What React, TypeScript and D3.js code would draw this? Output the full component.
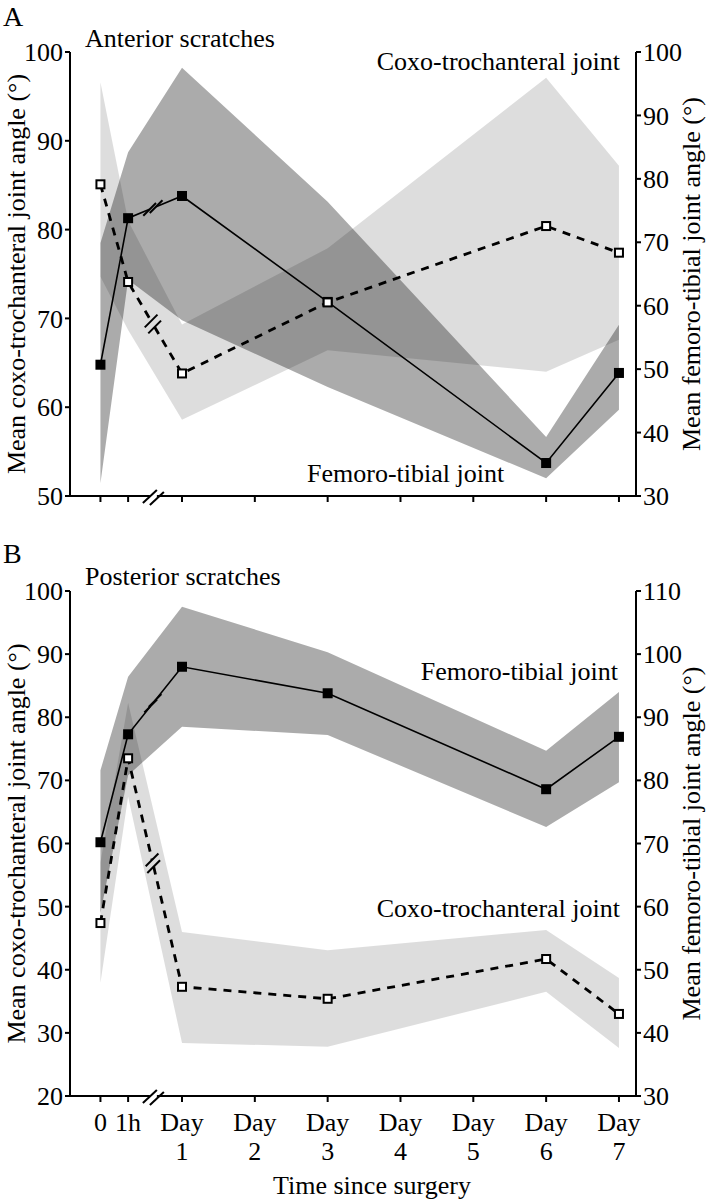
import React from 'react';
import * as d3 from 'd3';

// positions of sample times on a "day" axis (0 and 1h squeezed before the break)
const sampleTimes = [-0.12, 0.26, 1, 3, 6, 7];
const tickTimes = [-0.12, 0.26, 1, 2, 3, 4, 5, 6, 7];
const tickLine1 = ['0', '1h', 'Day', 'Day', 'Day', 'Day', 'Day', 'Day', 'Day'];
const tickLine2 = ['', '', '1', '2', '3', '4', '5', '6', '7'];
const breakTime = 0.6;
const xDomain = [-0.538, 7.234];

// Panel A – anterior scratches
const aCoxoMean = [85.1, 74.1, 63.8, 71.8, 80.4, 77.4];
const aCoxoHigh = [96.6, 81.0, 69.3, 77.9, 97.1, 87.2];
const aCoxoLow = [74.7, 68.7, 58.6, 66.4, 64.0, 67.6];
const aFemMean = [50.7, 73.8, 77.3, 60.6, 35.2, 49.4];
const aFemHigh = [69.9, 84.2, 97.5, 76.4, 39.3, 57.0];
const aFemLow = [32.0, 64.1, 57.7, 47.2, 32.8, 43.6];
const aLeftTicks = [50, 60, 70, 80, 90, 100];
const aRightTicks = [30, 40, 50, 60, 70, 80, 90, 100];

// Panel B – posterior scratches
const bCoxoMean = [47.4, 73.5, 37.3, 35.4, 41.7, 33.0];
const bCoxoHigh = [57.0, 82.3, 46.0, 43.1, 46.3, 38.7];
const bCoxoLow = [37.9, 67.4, 28.4, 27.8, 36.5, 27.6];
const bFemMean = [70.2, 87.3, 98.0, 93.8, 78.6, 86.9];
const bFemHigh = [81.6, 96.4, 107.5, 100.3, 84.7, 94.0];
const bFemLow = [59.0, 80.8, 88.5, 87.2, 72.6, 79.7];
const bLeftTicks = [20, 30, 40, 50, 60, 70, 80, 90, 100];
const bRightTicks = [30, 40, 50, 60, 70, 80, 90, 100, 110];

const FONT = '"Liberation Serif", "Times New Roman", serif';
const X0 = 70;
const X1 = 636;

type PanelCfg = {
  letter: string; letterY: number;
  title: string; titleY: number;
  top: number; bottom: number;
  leftDomain: [number, number]; rightDomain: [number, number];
  leftTicks: number[]; rightTicks: number[];
  coxoMean: number[]; coxoHigh: number[]; coxoLow: number[];
  femMean: number[]; femHigh: number[]; femLow: number[];
  coxoLabel: { x: number; y: number };
  femLabel: { x: number; y: number; anchor: string };
  showXLabels: boolean;
};

const panels: PanelCfg[] = [
  {
    letter: 'A', letterY: 26, title: 'Anterior scratches', titleY: 47,
    top: 52, bottom: 496, leftDomain: [50, 100], rightDomain: [30, 100],
    leftTicks: aLeftTicks, rightTicks: aRightTicks,
    coxoMean: aCoxoMean, coxoHigh: aCoxoHigh, coxoLow: aCoxoLow,
    femMean: aFemMean, femHigh: aFemHigh, femLow: aFemLow,
    coxoLabel: { x: 620, y: 70 }, femLabel: { x: 307, y: 482, anchor: 'start' },
    showXLabels: false,
  },
  {
    letter: 'B', letterY: 563, title: 'Posterior scratches', titleY: 585,
    top: 591, bottom: 1096, leftDomain: [20, 100], rightDomain: [30, 110],
    leftTicks: bLeftTicks, rightTicks: bRightTicks,
    coxoMean: bCoxoMean, coxoHigh: bCoxoHigh, coxoLow: bCoxoLow,
    femMean: bFemMean, femHigh: bFemHigh, femLow: bFemLow,
    coxoLabel: { x: 620, y: 917 }, femLabel: { x: 618, y: 680, anchor: 'end' },
    showXLabels: true,
  },
];

const x = d3.scaleLinear().domain(xDomain).range([X0, X1]);

function brokenLine(y: d3.ScaleLinear<number, number>, vals: number[]) {
  const pts: [number, number][] = vals.map((v, i) => [x(sampleTimes[i]), y(v)]);
  const p1 = pts[1], p2 = pts[2];
  const xb = x(breakTime);
  const t = (xb - p1[0]) / (p2[0] - p1[0]);
  const c: [number, number] = [p1[0] + t * (p2[0] - p1[0]), p1[1] + t * (p2[1] - p1[1])];
  const len = Math.hypot(p2[0] - p1[0], p2[1] - p1[1]);
  const u = [(p2[0] - p1[0]) / len, (p2[1] - p1[1]) / len];
  const g = 3.5;
  const a: [number, number] = [c[0] - g * u[0], c[1] - g * u[1]];
  const b: [number, number] = [c[0] + g * u[0], c[1] + g * u[1]];
  const line = d3.line();
  const seg1 = line([pts[0], pts[1], a]) as string;
  const seg2 = line([b, ...pts.slice(2)]) as string;
  const h = 9;
  const d = [Math.cos(-Math.PI / 4), Math.sin(-Math.PI / 4)];
  const strokes = [a, b].map((q) => [q[0] - h * d[0], q[1] - h * d[1], q[0] + h * d[0], q[1] + h * d[1]]);
  return { seg1, seg2, strokes, pts };
}

function Panel({ p }: { p: PanelCfg }) {
  const yL = d3.scaleLinear().domain(p.leftDomain).range([p.bottom, p.top]);
  const yR = d3.scaleLinear().domain(p.rightDomain).range([p.bottom, p.top]);
  const band = (y: d3.ScaleLinear<number, number>, lo: number[], hi: number[]) =>
    d3.area<number>()
      .x((t) => x(t))
      .y0((_, i) => y(lo[i]))
      .y1((_, i) => y(hi[i]))(sampleTimes) as string;

  const coxo = brokenLine(yL, p.coxoMean);
  const fem = brokenLine(yR, p.femMean);
  const xb = x(breakTime);
  const cy = (p.top + p.bottom) / 2;

  return (
    <g>
      <text x={3} y={p.letterY} fontSize={28} fontFamily={FONT}>{p.letter}</text>
      <text x={85} y={p.titleY} fontSize={26} fontFamily={FONT}>{p.title}</text>

      {/* bands */}
      <path d={band(yL, p.coxoLow, p.coxoHigh)} fill="#000" fillOpacity={0.135} />
      <path d={band(yR, p.femLow, p.femHigh)} fill="#000" fillOpacity={0.33} />

      {/* coxo dashed line */}
      <g stroke="#000" fill="none" strokeWidth={2.8}>
        <path d={coxo.seg1} strokeDasharray="8 7" />
        <path d={coxo.seg2} strokeDasharray="8 7" />
      </g>
      <g stroke="#000" strokeWidth={2}>
        {coxo.strokes.map((s, i) => <line key={i} x1={s[0]} y1={s[1]} x2={s[2]} y2={s[3]} />)}
      </g>
      {/* femoro solid line */}
      <g stroke="#000" fill="none" strokeWidth={1.6}>
        <path d={fem.seg1} />
        <path d={fem.seg2} />
      </g>
      <g stroke="#000" strokeWidth={2}>
        {fem.strokes.map((s, i) => <line key={i} x1={s[0]} y1={s[1]} x2={s[2]} y2={s[3]} />)}
      </g>

      {/* markers */}
      {fem.pts.map((q, i) => (
        <rect key={'f' + i} x={q[0] - 5} y={q[1] - 5} width={10} height={10} fill="#000" />
      ))}
      {coxo.pts.map((q, i) => (
        <rect key={'c' + i} x={q[0] - 4} y={q[1] - 4} width={8} height={8} fill="#fff" stroke="#000" strokeWidth={2} />
      ))}

      {/* axes */}
      <g stroke="#000" strokeWidth={2} fill="none">
        <line x1={X0} y1={p.top} x2={X0} y2={p.bottom + 1} />
        <line x1={X1} y1={p.top} x2={X1} y2={p.bottom + 1} />
        <line x1={X0 - 1} y1={p.bottom} x2={xb - 3} y2={p.bottom} />
        <line x1={xb + 4} y1={p.bottom} x2={X1 + 1} y2={p.bottom} />
        <line x1={xb - 10} y1={p.bottom + 7} x2={xb + 4} y2={p.bottom - 6} />
        <line x1={xb - 3} y1={p.bottom + 9} x2={xb + 11} y2={p.bottom - 4} />
        {p.leftTicks.map((v) => <line key={'l' + v} x1={X0 - 5} y1={yL(v)} x2={X0} y2={yL(v)} />)}
        {p.rightTicks.map((v) => <line key={'r' + v} x1={X1} y1={yR(v)} x2={X1 + 5} y2={yR(v)} />)}
        {tickTimes.map((t, i) => <line key={'x' + i} x1={x(t)} y1={p.bottom} x2={x(t)} y2={p.bottom + 6} />)}
      </g>
      <g fontSize={26} fontFamily={FONT}>
        {p.leftTicks.map((v) => (
          <text key={'lt' + v} x={X0 - 7} y={yL(v)} dy="0.35em" textAnchor="end">{v}</text>
        ))}
        {p.rightTicks.map((v) => (
          <text key={'rt' + v} x={X1 + 7} y={yR(v)} dy="0.35em" textAnchor="start">{v}</text>
        ))}
        {p.showXLabels && tickTimes.map((t, i) => (
          <g key={'xl' + i}>
            <text x={x(t)} y={p.bottom + 35} textAnchor="middle">{tickLine1[i]}</text>
            {tickLine2[i] && <text x={x(t)} y={p.bottom + 64} textAnchor="middle">{tickLine2[i]}</text>}
          </g>
        ))}
        <text transform={`translate(25, ${cy}) rotate(-90)`} textAnchor="middle">Mean coxo-trochanteral joint angle (°)</text>
        <text transform={`translate(700, ${cy}) rotate(-90)`} textAnchor="middle">Mean femoro-tibial joint angle (°)</text>
        <text x={p.coxoLabel.x} y={p.coxoLabel.y} textAnchor="end">Coxo-trochanteral joint</text>
        <text x={p.femLabel.x} y={p.femLabel.y} textAnchor={p.femLabel.anchor}>Femoro-tibial joint</text>
      </g>
    </g>
  );
}

export default function App() {
  return (
    <svg width={706} height={1200} style={{ position: 'absolute', left: 0, top: 0, background: '#fff' }}>
      <rect width={706} height={1200} fill="#fff" />
      {panels.map((p) => <Panel key={p.letter} p={p} />)}
      <text x={372} y={1194} fontSize={26} fontFamily={FONT} textAnchor="middle">Time since surgery</text>
    </svg>
  );
}
